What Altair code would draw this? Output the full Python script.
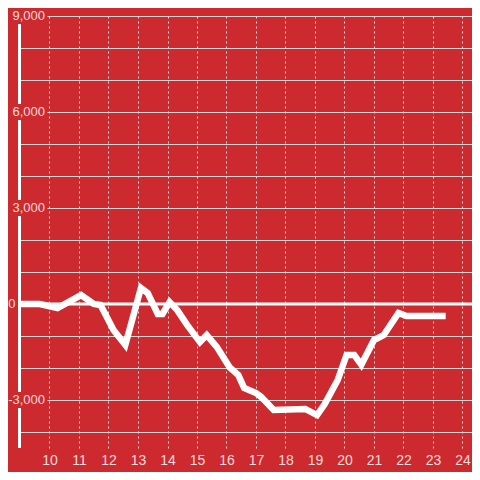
import altair as alt
import pandas as pd

BG = "#cc2a2f"
LABEL = "#f5dcdc"
FONT = "Liberation Sans"

hours = [9.0, 9.67, 10.27, 11.07, 11.5, 11.73, 12.17, 12.57, 13.1, 13.33, 13.67,
         13.83, 14.07, 14.33, 14.67, 15.1, 15.33, 15.67, 16.1, 16.4, 16.6, 17.0,
         17.17, 17.6, 18.67, 19.07, 19.33, 19.77, 20.07, 20.33, 20.57, 21.0,
         21.33, 21.83, 22.1, 23.43]
values = [0, 0, -125, 280, 0, -30, -810, -1280, 500, 340, -310,
          -310, 60, -190, -660, -1190, -970, -1340, -1970, -2220, -2625, -2780,
          -2900, -3310, -3280, -3470, -3125, -2375, -1590, -1590, -1900, -1125,
          -970, -280, -375, -375]

y_ticks = [-3000, 0, 3000, 6000, 9000]
y_labels = ["-3,000", "0", "3,000", "6,000", "9,000"]
y_grid = list(range(-4000, 9001, 1000))
x_ticks = list(range(10, 25))

df = pd.DataFrame({"hour": hours, "value": values})
ydf = pd.DataFrame({"v": y_ticks, "label": y_labels})
one = pd.DataFrame({"a": [0]})

W, H = 452, 432
xscale = alt.Scale(domain=[9, 9 + W / 29.5], nice=False, zero=False)
yscale = alt.Scale(domain=[-4500, 9000], nice=False, zero=False)
yaxis = alt.Axis(values=y_grid, labels=False, domain=False, ticks=False,
                 grid=True, gridColor="#d4d4d4", gridWidth=1.2)

line = alt.Chart(df).mark_line(color="white", strokeWidth=6.5).encode(
    x=alt.X("hour:Q", scale=xscale, title=None,
            axis=alt.Axis(values=x_ticks, format="d", domain=False, ticks=False,
                          labelPadding=5, labelColor=LABEL, labelFontSize=14,
                          labelFont=FONT, grid=True, gridColor="#dcdcdc",
                          gridDash=[2, 3], gridWidth=1, labelFlush=False)),
    y=alt.Y("value:Q", scale=yscale, title=None, axis=yaxis),
)

axis_rule = alt.Chart(one).mark_rule(color="white", strokeWidth=3).encode(
    x=alt.value(-0.5), y=alt.value(0), y2=alt.value(H)
)

boxes = alt.Chart(ydf).transform_filter("datum.v != 0").mark_tick(
    orient="horizontal", color=BG, size=40, thickness=16, opacity=1
).encode(x=alt.value(7.5), y=alt.Y("v:Q", scale=yscale, title=None, axis=yaxis))

labels = alt.Chart(ydf).transform_filter("datum.v != 0").mark_text(
    align="right", baseline="middle", fontSize=13, font=FONT, color=LABEL
).encode(x=alt.value(25), y=alt.Y("v:Q", scale=yscale, title=None, axis=yaxis),
         text="label:N")

zero_label = alt.Chart(ydf).transform_filter("datum.v == 0").mark_text(
    align="right", baseline="middle", fontSize=13, font=FONT, color=LABEL
).encode(x=alt.value(-4.5), y=alt.Y("v:Q", scale=yscale, title=None, axis=yaxis),
         text="label:N")

zero_rule = alt.Chart(ydf).transform_filter("datum.v == 0").mark_rule(
    color="white", strokeWidth=3
).encode(y=alt.Y("v:Q", scale=yscale, title=None, axis=yaxis),
         x=alt.value(1), x2=alt.value(W))

chart = alt.layer(axis_rule, boxes, labels, zero_label, zero_rule, line).properties(
    width=W, height=H, background=BG,
    autosize=alt.AutoSizeParams(type="none"),
    padding={"left": 12, "top": 8, "right": 0, "bottom": 24},
).configure_view(strokeWidth=0)

chart.save("out.html", embed_options={"renderer": "svg", "actions": False})
